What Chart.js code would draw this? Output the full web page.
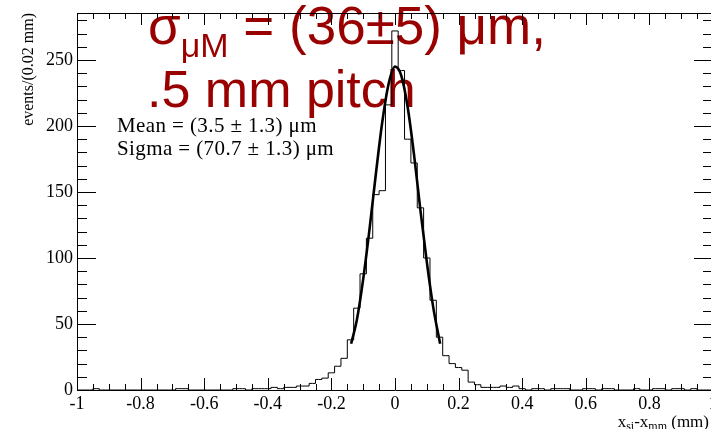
<!DOCTYPE html>
<html>
<head>
<meta charset="utf-8">
<script src="https://cdn.jsdelivr.net/npm/chart.js@4/dist/chart.umd.min.js"></script>
<style>
  html, body { margin: 0; padding: 0; background: #fff; overflow: hidden; }
  canvas { display: block; }
</style>
</head>
<body>
<canvas id="chart" width="720" height="429"></canvas>
<script>
// histogram: 101 bins of 0.02 mm, centred on -1.00 ... 1.00
const binStart = -1.0;
const binWidth = 0.02;
const counts = [
  0, 0, 0, 1, 0, 0, 0, 0, 0, 0, 0, 0, 0, 0, 0, 0,        // -1.00 .. -0.70
  1, 1, 0, 0, 0, 0, 0, 0, 0,                             // -0.68 .. -0.52
  1, 1, 0, 1, 1, 1, 2, 1, 2, 2, 3, 3, 5, 8, 9, 13,       // -0.50 .. -0.20
  18, 24, 38, 62, 88, 115, 148, 151, 216,                // -0.18 .. -0.02
  272,                                                   //  0.00
  242, 190, 172, 138, 100, 68, 40, 26, 20, 17,           //  0.02 ..  0.20
  15, 6, 4, 2, 2, 2, 3, 2, 3, 1,                         //  0.22 ..  0.40
  0, 1, 1, 0, 1, 1, 1, 0, 0, 1,                          //  0.42 ..  0.60
  1, 0, 1, 1, 0, 0, 0, 1, 0, 0,                          //  0.62 ..  0.80
  1, 1, 0, 1, 1, 0, 1, 0, 0, 0                           //  0.82 ..  1.00
];

// gaussian fit curve
const fitX = [-0.138, -0.12, -0.10, -0.08, -0.06, -0.04, -0.02, 0, 0.02, 0.04, 0.06, 0.08, 0.10, 0.12, 0.142];
const fitY = [35, 53, 84, 122, 164, 203, 232, 245, 238, 214, 178, 136, 97, 63, 35];

const xTicks = [-1, -0.8, -0.6, -0.4, -0.2, 0, 0.2, 0.4, 0.6, 0.8, 1];
const xTickLabels = ['-1', '-0.8', '-0.6', '-0.4', '-0.2', '0', '0.2', '0.4', '0.6', '0.8', '1'];
const yTicks = [0, 50, 100, 150, 200, 250];
const yTickLabels = ['0', '50', '100', '150', '200', '250'];

const meanText = 'Mean = (3.5 \u00b1 1.3) \u03bcm';
const sigmaText = 'Sigma = (70.7 \u00b1 1.3) \u03bcm';

const histData = counts.map((c, i) => ({ x: binStart + i * binWidth, y: c }));
const fitData = fitX.map((v, i) => ({ x: v, y: fitY[i] }));

const SERIF = '"Liberation Serif", "DejaVu Serif", serif';
const SANS = '"Liberation Sans", Arial, sans-serif';
const RED = '#990000';

const rootStyle = {
  id: 'rootStyle',
  beforeDatasetsDraw(chart) {
    const { ctx } = chart;
    ctx.save();
    // big red annotation
    ctx.fillStyle = RED;
    ctx.textBaseline = 'alphabetic';
    ctx.textAlign = 'left';
    let px = 148;
    ctx.font = '53px ' + SANS;
    ctx.fillText('\u03c3', px, 44);
    px += ctx.measureText('\u03c3').width;
    ctx.font = '34px ' + SANS;
    ctx.fillText('\u03bcM', px, 57);
    px += ctx.measureText('\u03bcM').width;
    ctx.font = '53px ' + SANS;
    ctx.fillText(' = (36\u00b15) \u03bcm,', px, 44);
    ctx.font = '52px ' + SANS;
    ctx.fillText('.5 mm pitch', 147, 107);

    // fit results
    ctx.fillStyle = '#000';
    ctx.font = '21px ' + SERIF;
    ctx.letterSpacing = '0.4px';
    ctx.fillText(meanText, 117, 132);
    ctx.fillText(sigmaText, 117, 155);
    ctx.restore();
  },
  afterDraw(chart) {
    const { ctx, chartArea: a, scales: { x, y } } = chart;
    ctx.save();
    ctx.strokeStyle = '#000';
    ctx.lineWidth = 1;
    ctx.beginPath();
    ctx.moveTo(a.left + 0.5, a.top + 0.5);
    ctx.lineTo(a.left + 0.5, a.bottom + 0.5);
    ctx.lineTo(a.right + 0.5, a.bottom + 0.5);
    ctx.lineTo(a.right + 0.5, a.top + 0.5);
    ctx.closePath();

    // x ticks, bottom and top, inward
    for (let i = 0; i <= 40; i++) {
      const v = -1 + i * 0.05;
      const p = Math.round(x.getPixelForValue(v)) + 0.5;
      const len = i % 4 === 0 ? 12 : 6;
      ctx.moveTo(p, a.bottom);
      ctx.lineTo(p, a.bottom - len);
      ctx.moveTo(p, a.top);
      ctx.lineTo(p, a.top + len);
    }
    // y ticks, left and right, inward
    for (let v = 0; v <= y.max; v += 10) {
      const p = Math.round(y.getPixelForValue(v)) + 0.5;
      const len = v % 50 === 0 ? 19 : 10;
      ctx.moveTo(a.left, p);
      ctx.lineTo(a.left + len, p);
      ctx.moveTo(a.right, p);
      ctx.lineTo(a.right - len, p);
    }
    ctx.stroke();

    ctx.fillStyle = '#000';
    ctx.font = '18px ' + SERIF;
    ctx.textAlign = 'center';
    ctx.textBaseline = 'alphabetic';
    xTicks.forEach((v, i) => {
      ctx.fillText(xTickLabels[i], x.getPixelForValue(v), 409);
    });
    ctx.textAlign = 'right';
    ctx.textBaseline = 'middle';
    yTicks.forEach((v, i) => {
      ctx.fillText(yTickLabels[i], 73, y.getPixelForValue(v));
    });

    // y title, rotated, aligned to the top of the axis
    ctx.save();
    ctx.translate(33, a.top);
    ctx.rotate(-Math.PI / 2);
    ctx.textAlign = 'right';
    ctx.textBaseline = 'alphabetic';
    ctx.font = '16px ' + SERIF;
    ctx.fillText('events/(0.02 mm)', 0, 0);
    ctx.restore();

    // x title with subscripts, right aligned at the canvas edge
    const parts = [
      ['x', 17, 0], ['si', 12, 4], ['-x', 17, 0], ['mm', 12, 4], [' (mm)', 17, 0]
    ];
    let w = 0;
    parts.forEach(pt => { ctx.font = pt[1] + 'px ' + SERIF; w += ctx.measureText(pt[0]).width; });
    let px = 709 - w;
    ctx.textAlign = 'left';
    parts.forEach(pt => {
      ctx.font = pt[1] + 'px ' + SERIF;
      ctx.fillText(pt[0], px, 423 + pt[2]);
      px += ctx.measureText(pt[0]).width;
    });
    ctx.restore();
  }
};

new Chart(document.getElementById('chart'), {
  type: 'scatter',
  data: {
    datasets: [
      {
        label: 'fit',
        type: 'line',
        data: fitData,
        borderColor: '#000',
        borderWidth: 2.6,
        pointRadius: 0,
        cubicInterpolationMode: 'monotone',
        fill: false,
        order: 0
      },
      {
        label: 'histogram',
        type: 'line',
        data: histData,
        stepped: 'middle',
        borderColor: '#000',
        borderWidth: 1,
        pointRadius: 0,
        fill: false,
        order: 1
      }
    ]
  },
  options: {
    responsive: false,
    animation: false,
    events: [],
    layout: { padding: { left: 77, right: 7, top: 13, bottom: 39 } },
    plugins: { legend: { display: false }, tooltip: { enabled: false } },
    scales: {
      x: { type: 'linear', min: -1, max: 1, display: false },
      y: { type: 'linear', min: 0, max: 285.6, display: false }
    }
  },
  plugins: [rootStyle]
});
</script>
</body>
</html>
